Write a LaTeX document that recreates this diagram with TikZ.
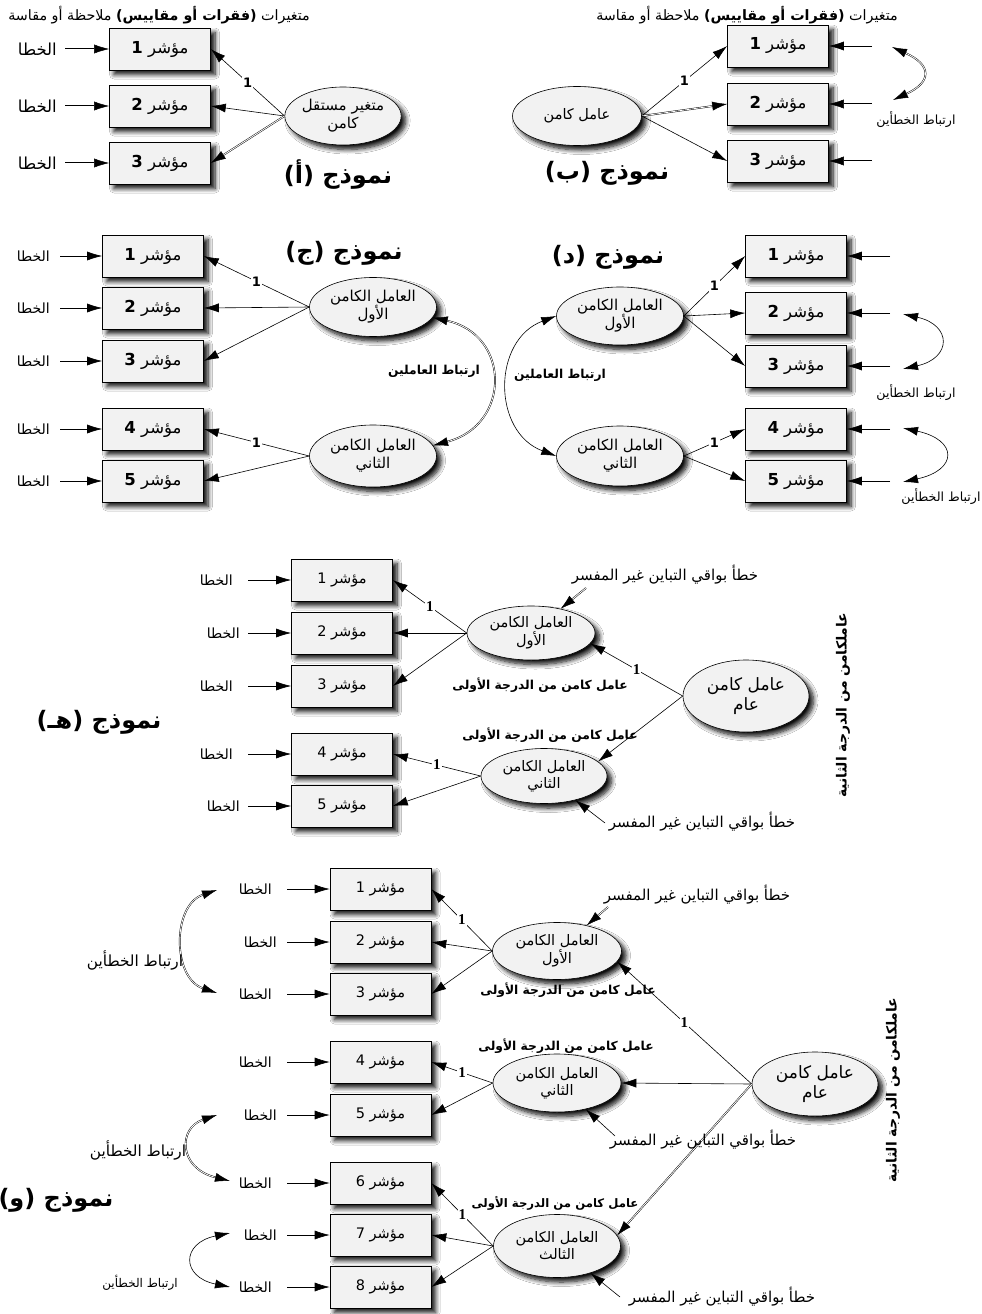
\documentclass[tikz,border=0pt]{standalone}
\usepackage{fontspec}
\setmainfont{DejaVu Sans}
\newfontfamily\arfont[Script=Arabic]{DejaVu Sans}
\newfontfamily\numserif{Liberation Serif}
\TeXXeTstate=1
\usetikzlibrary{arrows.meta,shapes.geometric,shadows.blur}
\definecolor{boxfill}{HTML}{F2F2F2}
\newcommand\AR[1]{{\arfont\beginR #1\endR}}
\newcommand\fs[2]{\fontsize{#1}{#2}\selectfont}
\tikzset{
  shd/.style={blur shadow={shadow xshift=4.5pt, shadow yshift=-4.5pt, shadow blur steps=8, shadow blur radius=4.5pt, shadow opacity=95}},
  box/.style={draw, fill=boxfill, minimum width=101pt, minimum height=42pt, inner sep=0pt, line width=0.6pt, shd, font=\fs{14.5}{17}},
  boxB/.style={box, font=\fs{16.5}{20}},
  ell/.style={ellipse, draw, fill=boxfill, inner sep=0pt, align=center, line width=0.6pt, shd, font=\fs{14.5}{17}},
  arr/.style={-{Latex[length=15pt,width=9pt]}, line width=0.6pt},
  darr/.style={{Latex[length=15pt,width=9pt]}-{Latex[length=15pt,width=9pt]}, line width=0.6pt},
  dbl/.style={double=white, double distance=0.8pt, line width=0.45pt},
  one/.style={fill=white, inner sep=1pt, font=\bfseries\fs{13}{15}},
  oneS/.style={fill=white, inner sep=1pt, font=\numserif\bfseries\fs{15}{17}},
  err/.style={anchor=east, inner ysep=2pt, font=\fs{14}{17}},
  txt/.style={inner sep=0pt, font=\fs{15}{18}},
  head/.style={inner sep=0pt, font=\fs{14.3}{17}},
  ttl/.style={inner sep=0pt, font=\bfseries\fs{24}{28}},
  corr/.style={inner sep=0pt, font=\fs{12.6}{15}},
  corb/.style={inner sep=0pt, font=\bfseries\fs{12.3}{14}},
}
\begin{document}
\begin{tikzpicture}[x=1pt,y=-1pt]
\fill[white] (0,0) rectangle (982,1314);
\path[use as bounding box] (0,0) rectangle (982,1314);

% ================= Model A =================
\node[head] (ahead) at (159,15) {\AR{متغيرات \textbf{(فقرات أو مقاييس)} ملاحظة أو مقاسة}};
\node[boxB] (a1) at (160,49) {\AR{مؤشر \textbf{1}}};
\node[boxB] (a2) at (160,106) {\AR{مؤشر \textbf{2}}};
\node[boxB] (a3) at (160,163) {\AR{مؤشر \textbf{3}}};
\node[err, inner xsep=8pt, font=\fs{16.5}{20}] (ae1) at (65,49) {\AR{الخطا}};
\node[err, inner xsep=8pt, font=\fs{16.5}{20}] (ae2) at (65,106) {\AR{الخطا}};
\node[err, inner xsep=8pt, font=\fs{16.5}{20}] (ae3) at (65,163) {\AR{الخطا}};
\draw[arr,dbl] (ae1.east) -- (a1.west);
\draw[arr,dbl] (ae2.east) -- (a2.west);
\draw[arr,dbl] (ae3.east) -- (a3.west);
\node[ell, minimum width=103pt, minimum height=58pt, font=\fs{15}{18}] (ae) at (343,116) {\AR{متغير مستقل}\\\AR{كامن}};
\draw[arr] (ae.west) -- node[one]{1} (a1.east);
\draw[arr] (ae.west) -- (a2.east);
\draw[arr,dbl] (ae.west) -- (a3.east);
\node[ttl] (attl) at (338,175) {\AR{نموذج (أ)}};

% ================= Model B =================
\node[head] (bhead) at (747,15) {\AR{متغيرات \textbf{(فقرات أو مقاييس)} ملاحظة أو مقاسة}};
\node[boxB] (b1) at (778,46) {\AR{مؤشر \textbf{1}}};
\node[boxB] (b2) at (778,104) {\AR{مؤشر \textbf{2}}};
\node[boxB] (b3) at (778,161) {\AR{مؤشر \textbf{3}}};
\node[ell, minimum width=129pt, minimum height=59pt] (be) at (577,116) {\AR{عامل كامن}};
\draw[arr] (be.east) -- node[one]{1} (b1.west);
\draw[arr,dbl] (be.east) -- (b2.west);
\draw[arr] (be.east) -- (b3.west);
\coordinate (bq1) at (872,46);
\coordinate (bq2) at (872,104);
\coordinate (bq3) at (872,161);
\draw[arr] (bq1) -- (b1.east);
\draw[arr,dbl] (bq2) -- (b2.east);
\draw[arr,dbl] (bq3) -- (b3.east);
\coordinate (bk1) at (892,47);
\coordinate (bk2) at (893,100);
\draw[darr,dbl] (bk1) .. controls (932,65) and (932,82) .. (bk2);
\node[corr] (bcor) at (916,120) {\AR{ارتباط الخطأين}};
\node[ttl] (bttl) at (607,173) {\AR{نموذج (ب)}};

% ================= Model C =================
\node[boxB] (c1) at (153,256) {\AR{مؤشر \textbf{1}}};
\node[boxB] (c2) at (153,308) {\AR{مؤشر \textbf{2}}};
\node[boxB] (c3) at (153,361) {\AR{مؤشر \textbf{3}}};
\node[boxB] (c4) at (153,429) {\AR{مؤشر \textbf{4}}};
\node[boxB] (c5) at (153,481) {\AR{مؤشر \textbf{5}}};
\node[err, inner xsep=10pt] (ce1) at (60,256) {\AR{الخطا}};
\node[err, inner xsep=10pt] (ce2) at (60,308) {\AR{الخطا}};
\node[err, inner xsep=10pt] (ce3) at (60,361) {\AR{الخطا}};
\node[err, inner xsep=10pt] (ce4) at (60,429) {\AR{الخطا}};
\node[err, inner xsep=10pt] (ce5) at (60,481) {\AR{الخطا}};
\foreach \i in {1,...,5}{\draw[arr] (ce\i.east) -- (c\i.west);}
\node[ell, minimum width=127pt, minimum height=59pt, font=\fs{15}{18}] (C1) at (373,307) {\AR{العامل الكامن}\\\AR{الأول}};
\node[ell, minimum width=127pt, minimum height=62pt, font=\fs{15}{18}] (C2) at (373,456) {\AR{العامل الكامن}\\\AR{الثاني}};
\draw[arr] (C1.west) -- node[one]{1} (c1.east);
\draw[arr] (C1.west) -- (c2.east);
\draw[arr] (C1.west) -- (c3.east);
\draw[arr] (C2.west) -- node[one]{1} (c4.east);
\draw[arr] (C2.west) -- (c5.east);
\draw[darr,dbl] (C1.-10) .. controls (511,335) and (511,425) .. (C2.10);
\node[corb] (ccor) at (434,371) {\AR{ارتباط العاملين}};
\node[ttl] (cttl) at (344,253) {\AR{نموذج (ج)}};

% ================= Model D =================
\node[boxB] (d1) at (796,256) {\AR{مؤشر \textbf{1}}};
\node[boxB] (d2) at (796,313) {\AR{مؤشر \textbf{2}}};
\node[boxB] (d3) at (796,366) {\AR{مؤشر \textbf{3}}};
\node[boxB] (d4) at (796,429) {\AR{مؤشر \textbf{4}}};
\node[boxB] (d5) at (796,481) {\AR{مؤشر \textbf{5}}};
\coordinate (dq1) at (890,256);
\coordinate (dq2) at (890,313);
\coordinate (dq3) at (890,366);
\coordinate (dq4) at (890,429);
\coordinate (dq5) at (890,481);
\foreach \i in {1,...,5}{\draw[arr] (dq\i) -- (d\i.east);}
\node[ell, minimum width=127pt, minimum height=58pt, font=\fs{15}{18}] (D1) at (620,316) {\AR{العامل الكامن}\\\AR{الأول}};
\node[ell, minimum width=127pt, minimum height=60pt, font=\fs{15}{18}] (D2) at (620,456) {\AR{العامل الكامن}\\\AR{الثاني}};
\draw[arr] (D1.east) -- node[one]{1} (d1.west);
\draw[arr] (D1.east) -- (d2.west);
\draw[arr] (D1.east) -- (d3.west);
\draw[arr] (D2.east) -- node[one]{1} (d4.west);
\draw[arr] (D2.east) -- (d5.west);
\draw[darr] (D1.west) .. controls (492,340) and (492,432) .. (D2.west);
\node[corb] (dcor) at (560,375) {\AR{ارتباط العاملين}};
\coordinate (dk1) at (903,314);
\coordinate (dk2) at (903,369);
\coordinate (dk3) at (903,428);
\coordinate (dk4) at (903,482);
\draw[darr] (dk1) .. controls (952,325) and (952,358) .. (dk2);
\draw[darr] (dk3) .. controls (958,440) and (958,470) .. (dk4);
\node[corr] (dcor1) at (916,393) {\AR{ارتباط الخطأين}};
\node[corr] (dcor2) at (941,497) {\AR{ارتباط الخطأين}};
\node[ttl] (dttl) at (608,257) {\AR{نموذج (د)}};

% ================= Model E =================
\node[box] (e1) at (342,580) {\AR{مؤشر 1}};
\node[box] (e2) at (342,633) {\AR{مؤشر 2}};
\node[box] (e3) at (342,686) {\AR{مؤشر 3}};
\node[box] (e4) at (342,754) {\AR{مؤشر 4}};
\node[box] (e5) at (342,806) {\AR{مؤشر 5}};
\node[err, inner xsep=15pt] (ee1) at (248,580) {\AR{الخطا}};
\node[err, inner xsep=8pt] (ee2) at (248,633) {\AR{الخطا}};
\node[err, inner xsep=15pt] (ee3) at (248,686) {\AR{الخطا}};
\node[err, inner xsep=15pt] (ee4) at (248,754) {\AR{الخطا}};
\node[err, inner xsep=8pt] (ee5) at (248,806) {\AR{الخطا}};
\foreach \i in {1,...,5}{\draw[arr] (ee\i.east) -- (e\i.west);}
\node[ell, minimum width=128pt, minimum height=54pt] (E1) at (531,633) {\AR{العامل الكامن}\\\AR{الأول}};
\node[ell, minimum width=126pt, minimum height=55pt] (E2) at (544,776) {\AR{العامل الكامن}\\\AR{الثاني}};
\node[ell, minimum width=126pt, minimum height=72pt, font=\fs{17}{20}] (EG) at (746,696) {\AR{عامل كامن}\\\AR{عام}};
\draw[arr] (E1.west) -- node[oneS]{1} (e1.east);
\draw[arr] (E1.west) -- (e2.east);
\draw[arr] (E1.west) -- (e3.east);
\draw[arr] (E2.west) -- node[oneS]{1} (e4.east);
\draw[arr] (E2.west) -- (e5.east);
\draw[arr] (EG.west) -- node[oneS]{1} (E1.-10);
\draw[arr] (EG.west) -- (E2.15);
\node[txt] (eres1) at (665,575) {\AR{خطأ بواقي التباين غير المفسر}};
\node[txt] (eres2) at (702,822) {\AR{خطأ بواقي التباين غير المفسر}};
\coordinate (eq1) at (586,588);
\coordinate (eq2) at (605,823);
\draw[arr,dbl] (eq1) -- (E1);
\draw[arr] (eq2) -- (E2);
\node[corb] (efo1) at (540,685) {\AR{عامل كامن من الدرجة الأولى}};
\node[corb] (efo2) at (550,735) {\AR{عامل كامن من الدرجة الأولى}};
\node[inner sep=0pt, rotate=90, font=\bfseries\fs{14}{17}] (evert) at (843,705) {\AR{عاملكامن من الدرجة الثانية}};
\node[ttl] (ettl) at (99,722) {\AR{نموذج (هـ)}};

% ================= Model F =================
\node[box] (f1) at (380.5,889) {\AR{مؤشر 1}};
\node[box] (f2) at (380.5,942) {\AR{مؤشر 2}};
\node[box] (f3) at (380.5,994) {\AR{مؤشر 3}};
\node[box] (f4) at (380.5,1062) {\AR{مؤشر 4}};
\node[box] (f5) at (380.5,1115) {\AR{مؤشر 5}};
\node[box] (f6) at (380.5,1183) {\AR{مؤشر 6}};
\node[box] (f7) at (380.5,1235) {\AR{مؤشر 7}};
\node[box] (f8) at (380.5,1287) {\AR{مؤشر 8}};
\node[err, inner xsep=15pt] (fe1) at (287,889) {\AR{الخطا}};
\node[err, inner xsep=10pt] (fe2) at (287,942) {\AR{الخطا}};
\node[err, inner xsep=15pt] (fe3) at (287,994) {\AR{الخطا}};
\node[err, inner xsep=15pt] (fe4) at (287,1062) {\AR{الخطا}};
\node[err, inner xsep=10pt] (fe5) at (287,1115) {\AR{الخطا}};
\node[err, inner xsep=15pt] (fe6) at (287,1183) {\AR{الخطا}};
\node[err, inner xsep=10pt] (fe7) at (287,1235) {\AR{الخطا}};
\node[err, inner xsep=15pt] (fe8) at (287,1287) {\AR{الخطا}};
\foreach \i in {1,...,8}{\draw[arr] (fe\i.east) -- (f\i.west);}
\node[ell, minimum width=129pt, minimum height=57pt] (F1) at (557,951) {\AR{العامل الكامن}\\\AR{الأول}};
\node[ell, minimum width=128pt, minimum height=58pt] (F2) at (557,1083) {\AR{العامل الكامن}\\\AR{الثاني}};
\node[ell, minimum width=127pt, minimum height=63pt] (F3) at (557,1246) {\AR{العامل الكامن}\\\AR{الثالث}};
\node[ell, minimum width=126pt, minimum height=64pt, font=\fs{17}{20}] (FG) at (815,1084) {\AR{عامل كامن}\\\AR{عام}};
\draw[arr] (F1.west) -- node[oneS]{1} (f1.east);
\draw[arr] (F1.west) -- (f2.east);
\draw[arr] (F1.west) -- (f3.east);
\draw[arr] (F2.west) -- node[oneS]{1} (f4.east);
\draw[arr] (F2.west) -- (f5.east);
\draw[arr] (F3.west) -- node[oneS]{1} (f6.east);
\draw[arr] (F3.west) -- (f7.east);
\draw[arr] (F3.west) -- (f8.east);
\draw[arr] (FG.west) -- node[oneS]{1} (F1.-10);
\draw[arr] (FG.west) -- (F2.east);
\draw[arr,dbl] (FG.west) -- (F3.10);
\node[txt] (fres1) at (697,895) {\AR{خطأ بواقي التباين غير المفسر}};
\node[txt] (fres2) at (703,1140) {\AR{خطأ بواقي التباين غير المفسر}};
\node[txt] (fres3) at (722,1297) {\AR{خطأ بواقي التباين غير المفسر}};
\coordinate (fq1) at (608,907);
\coordinate (fq2) at (615,1136);
\coordinate (fq3) at (620,1297);
\draw[arr,dbl] (fq1) -- (F1);
\draw[arr] (fq2) -- (F2);
\draw[arr] (fq3) -- (F3);
\node[corb] (ffo1) at (568,990) {\AR{عامل كامن من الدرجة الأولى}};
\node[corb] (ffo2) at (566,1046) {\AR{عامل كامن من الدرجة الأولى}};
\node[inner sep=0pt, font=\bfseries\fs{11.7}{14}] (ffo3) at (555,1203) {\AR{عامل كامن من الدرجة الأولى}};
\node[inner sep=0pt, rotate=90, font=\bfseries\fs{14}{17}] (fvert) at (893,1090) {\AR{عاملكامن من الدرجة الثانية}};
\coordinate (fk1) at (217,890);
\coordinate (fk3) at (217,993);
\coordinate (fk5) at (217,1115);
\coordinate (fk6) at (230,1181);
\coordinate (fk7) at (230,1233);
\coordinate (fk8) at (230,1287);
\draw[darr,dbl] (fk1) .. controls (172,905) and (172,978) .. (fk3);
\draw[darr,dbl] (fk5) .. controls (178,1128) and (178,1168) .. (fk6);
\draw[darr] (fk7) .. controls (181,1243) and (181,1277) .. (fk8);
\node[inner sep=0pt, font=\fs{15.3}{18}] (fcor1) at (135,960) {\AR{ارتباط الخطأين}};
\node[inner sep=0pt, font=\fs{15.3}{18}] (fcor2) at (138,1150) {\AR{ارتباط الخطأين}};
\node[inner sep=0pt, font=\fs{12}{14}] (fcor3) at (140,1283) {\AR{ارتباط الخطأين}};
\node[ttl] (fttl) at (56,1200) {\AR{نموذج (و)}};
\end{tikzpicture}
\end{document}
